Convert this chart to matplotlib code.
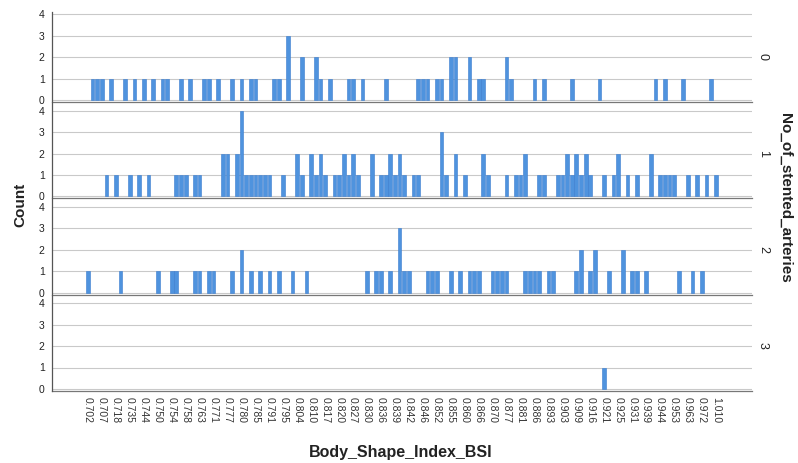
import matplotlib
matplotlib.use("Agg")
import matplotlib.pyplot as plt
import numpy as np
from matplotlib.lines import Line2D

plt.rcParams['font.family'] = ['Liberation Sans', 'DejaVu Sans']

# Categories (unique Body_Shape_Index_BSI values)
categories = [
    "0.702", "0.703", "0.705", "0.707", "0.710", "0.714", "0.718", "0.722", "0.729",
    "0.735", "0.738", "0.741", "0.744", "0.746", "0.748", "0.750", "0.751", "0.752",
    "0.754", "0.755", "0.757", "0.758", "0.760", "0.761", "0.763", "0.765", "0.768",
    "0.771", "0.773", "0.775", "0.777", "0.778", "0.779", "0.780", "0.782", "0.783",
    "0.785", "0.787", "0.789", "0.791", "0.792", "0.793", "0.795", "0.798", "0.801",
    "0.804", "0.806", "0.808", "0.810", "0.812", "0.815", "0.817", "0.818", "0.819",
    "0.820", "0.822", "0.824", "0.827", "0.828", "0.829", "0.830", "0.832", "0.834",
    "0.836", "0.837", "0.838", "0.839", "0.840", "0.841", "0.842", "0.843", "0.844",
    "0.846", "0.848", "0.850", "0.852", "0.853", "0.854", "0.855", "0.857", "0.858",
    "0.860", "0.862", "0.864", "0.866", "0.867", "0.868", "0.870", "0.872", "0.874",
    "0.877", "0.878", "0.879", "0.881", "0.883", "0.884", "0.886", "0.888", "0.890",
    "0.893", "0.896", "0.899", "0.903", "0.905", "0.907", "0.909", "0.911", "0.913",
    "0.916", "0.918", "0.919", "0.921", "0.922", "0.923", "0.925", "0.927", "0.929",
    "0.931", "0.934", "0.936", "0.939", "0.941", "0.942", "0.944", "0.947", "0.950",
    "0.953", "0.956", "0.959", "0.963", "0.965", "0.968", "0.972", "0.980", "0.995",
    "1.010",
]

panel_names = ["0", "1", "2", "3"]

counts_0 = [
    0,1,1,1,0,1,0,0,1,0,
    1,0,1,0,1,0,1,1,0,0,
    1,0,1,0,0,1,1,0,1,0,
    0,1,0,1,0,1,1,0,0,0,
    1,1,0,3,0,0,2,0,0,2,
    1,0,1,0,0,0,1,1,0,1,
    0,0,0,0,1,0,0,0,0,0,
    0,1,1,1,0,1,1,0,2,2,
    0,0,2,0,1,1,0,0,0,0,
    2,1,0,0,0,0,1,0,1,0,
    0,0,0,0,1,0,0,0,0,0,
    1,0,0,0,0,0,0,0,0,0,
    0,0,1,0,1,0,0,0,1,0,
    0,0,0,0,1,0,
]
counts_1 = [
    0,0,0,0,1,0,1,0,0,1,
    0,1,0,1,0,0,0,0,0,1,
    1,1,0,1,1,0,0,0,0,2,
    2,0,2,4,1,1,1,1,1,1,
    0,0,1,0,0,2,1,0,2,1,
    2,1,0,1,1,2,1,2,1,0,
    0,2,0,1,1,2,1,2,1,0,
    1,1,0,0,0,0,3,1,0,2,
    0,1,0,0,0,2,1,0,0,0,
    1,0,1,1,2,0,0,1,1,0,
    0,1,1,2,1,2,1,2,1,0,
    0,1,0,1,2,0,1,0,1,0,
    0,2,0,1,1,1,1,0,0,1,
    0,1,0,1,0,1,
]
counts_2 = [
    1,0,0,0,0,0,0,1,0,0,
    0,0,0,0,0,1,0,0,1,1,
    0,0,0,1,1,0,1,1,0,0,
    0,1,0,2,0,1,0,1,0,1,
    0,1,0,0,1,0,0,1,0,0,
    0,0,0,0,0,0,0,0,0,0,
    1,0,1,1,0,1,0,3,1,1,
    0,0,0,1,1,1,0,0,1,0,
    1,0,1,1,1,0,0,1,1,1,
    1,0,0,0,1,1,1,1,0,1,
    1,0,0,0,0,1,2,0,1,2,
    0,0,1,0,0,2,0,1,1,0,
    1,0,0,0,0,0,0,1,0,0,
    1,0,1,0,0,0,
]
counts_3 = [
    0,0,0,0,0,0,0,0,0,0,
    0,0,0,0,0,0,0,0,0,0,
    0,0,0,0,0,0,0,0,0,0,
    0,0,0,0,0,0,0,0,0,0,
    0,0,0,0,0,0,0,0,0,0,
    0,0,0,0,0,0,0,0,0,0,
    0,0,0,0,0,0,0,0,0,0,
    0,0,0,0,0,0,0,0,0,0,
    0,0,0,0,0,0,0,0,0,0,
    0,0,0,0,0,0,0,0,0,0,
    0,0,0,0,0,0,0,0,0,0,
    0,1,0,0,0,0,0,0,0,0,
    0,0,0,0,0,0,0,0,0,0,
    0,0,0,0,0,0,
]
all_counts = [counts_0, counts_1, counts_2, counts_3]

y_ticks = [0, 1, 2, 3, 4]

W, H = 798, 463
fig = plt.figure(figsize=(W / 100, H / 100), dpi=100)

left_px, right_px = 51.7, 751.7
zero_px = [100.0, 196.3, 292.6, 388.9]
unit_px = 21.4
ylo, yhi = -0.1, 4.12
xlim = (-7.8, 142.7)

bar_face = "#4f93de"
bar_edge = "#3a7cce"
grid_col = "#c9c9c9"

x = np.arange(len(categories))
label_step = 3

for p, counts in enumerate(all_counts):
    bottom_px = zero_px[p] - ylo * unit_px
    h_px = (yhi - ylo) * unit_px
    ax = fig.add_axes([left_px / W, 1 - bottom_px / H,
                       (right_px - left_px) / W, h_px / H])
    c = np.array(counts)
    mask = c > 0
    ax.bar(x[mask], c[mask], width=0.8, color=bar_face,
           edgecolor=bar_edge, linewidth=0.4, zorder=3)
    ax.set_xlim(*xlim)
    ax.set_ylim(ylo, yhi)
    ax.set_yticks(y_ticks)
    ax.set_yticklabels([str(t) for t in y_ticks], fontsize=7.5, color="#222222")
    ax.yaxis.grid(True, color=grid_col, linewidth=0.8)
    ax.set_axisbelow(True)
    ax.tick_params(axis="y", length=0, pad=5)
    for s in ["top", "right", "left"]:
        ax.spines[s].set_visible(False)
    ax.spines["bottom"].set_color("#777777")
    ax.spines["bottom"].set_linewidth(0.9)
    ax.text(1.016, 0.5, panel_names[p], transform=ax.transAxes,
            rotation=270, ha="center", va="center", fontsize=9, color="#222222")
    if p < 3:
        ax.set_xticks([])
    else:
        ticks = x[::label_step]
        ax.set_xticks(ticks)
        ax.set_xticklabels([categories[i] for i in ticks], rotation=270,
                           fontsize=7.5, color="#333333", ha="center", va="top")
        ax.tick_params(axis="x", length=0, pad=4)

# continuous left axis line
top_fig = 1 - (zero_px[0] - yhi * unit_px) / H
bot_fig = 1 - (zero_px[3] - ylo * unit_px) / H
fig.add_artist(Line2D([left_px / W, left_px / W], [bot_fig, top_fig],
                      color="#555555", linewidth=0.9))

fig.text(20 / W, 1 - 205 / H, "Count", rotation=90, ha="center", va="center",
         fontsize=11, fontweight="bold", color="#222222")
fig.text(401 / W, 1 - 452 / H, "Body_Shape_Index_BSI", ha="center", va="center",
         fontsize=11.5, fontweight="bold", color="#222222")
fig.text(785 / W, 1 - 198 / H, "No_of_stented_arteries", rotation=270,
         ha="center", va="center", fontsize=11, fontweight="bold", color="#222222")

fig.savefig("out.png", dpi=100)
